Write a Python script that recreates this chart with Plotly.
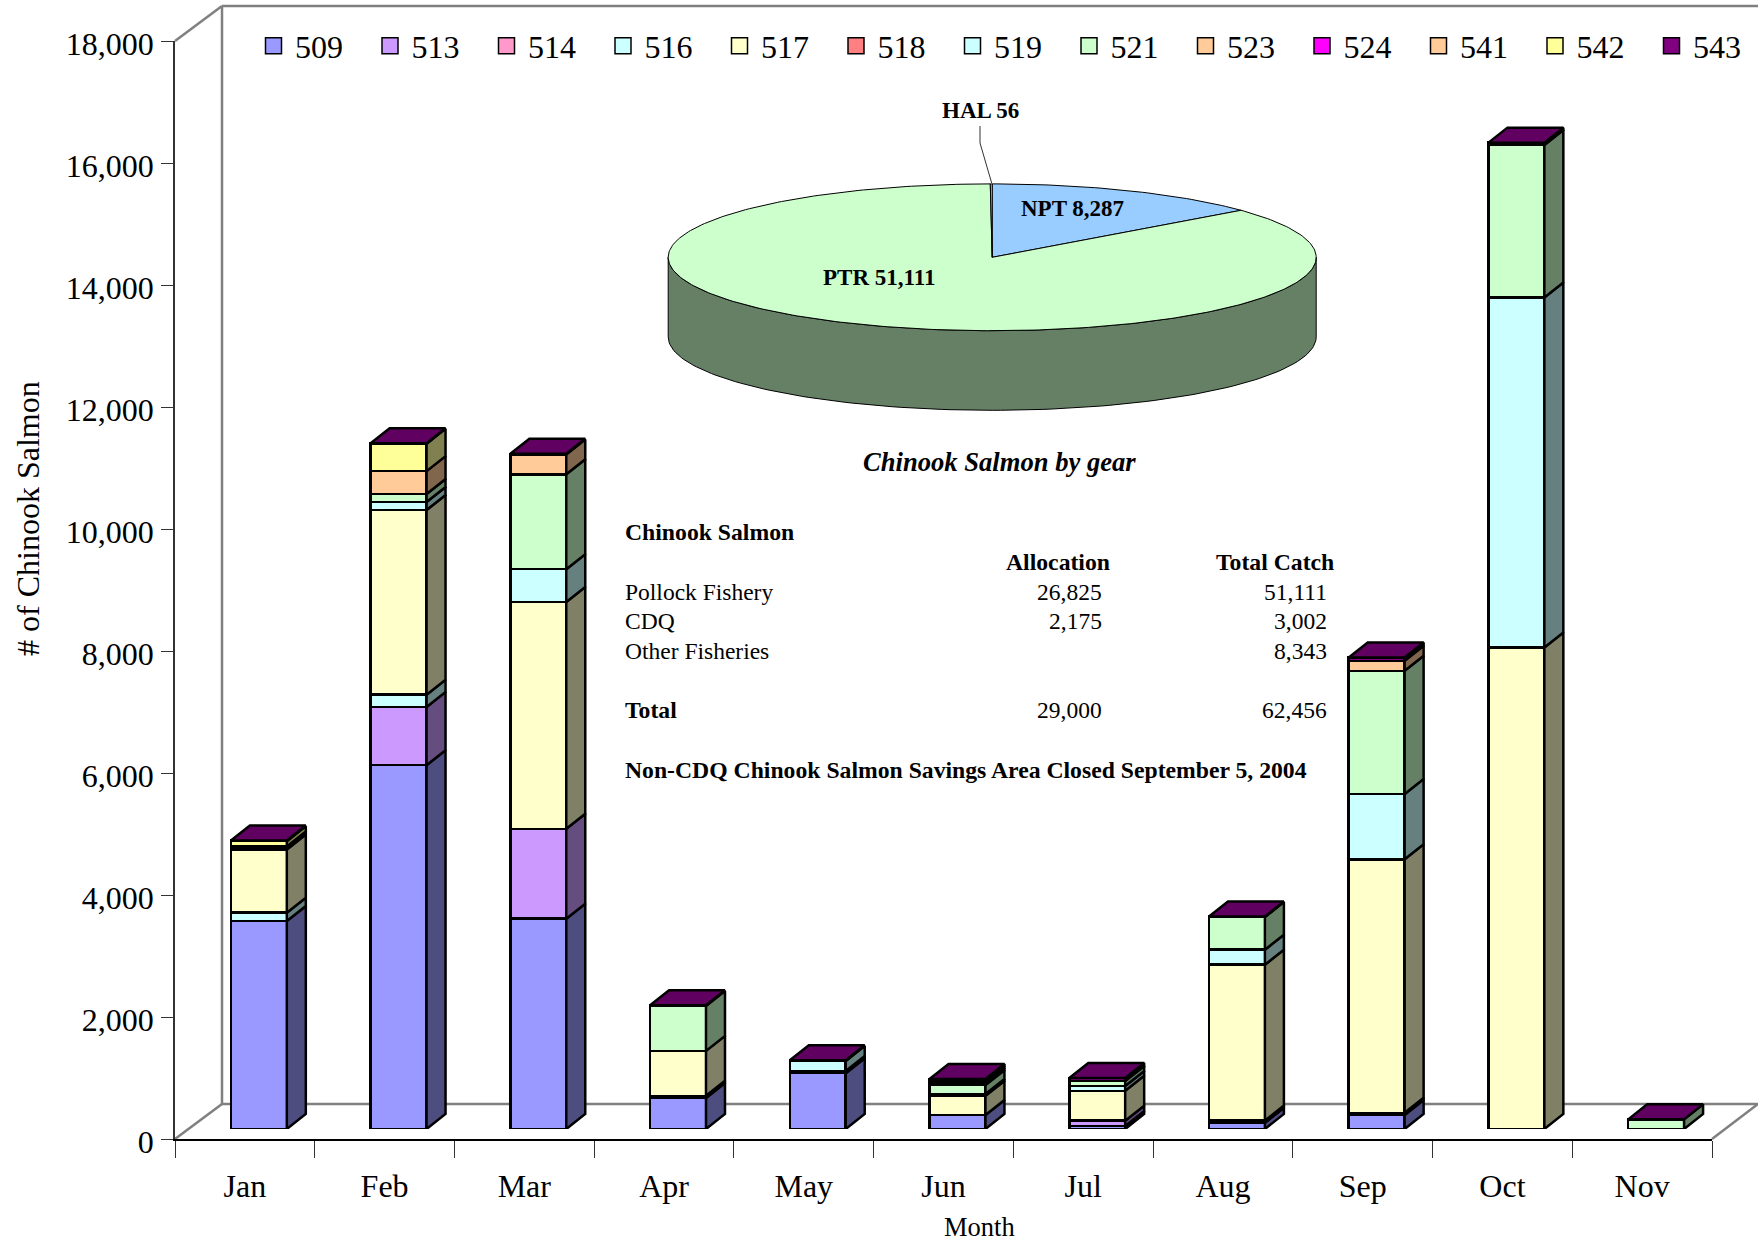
import numpy as np
import plotly.graph_objects as go

W, H = 1758, 1241

months = ["Jan", "Feb", "Mar", "Apr", "May", "Jun", "Jul", "Aug", "Sep", "Oct", "Nov"]
codes = ["509", "513", "514", "516", "517", "518", "519", "521", "523", "524", "541", "542", "543"]

v509 = [3409, 5964, 3448, 508, 915, 229, 49, 102, 230, 0, 0]
v513 = [0, 954, 1473, 0, 0, 0, 87, 0, 0, 0, 0]
v514 = [0, 0, 0, 0, 0, 0, 0, 0, 0, 0, 0]
v516 = [137, 202, 0, 36, 36, 0, 0, 36, 36, 0, 0]
v517 = [1037, 3027, 3720, 737, 0, 315, 491, 2556, 4156, 7894, 0]
v518 = [0, 0, 0, 0, 0, 0, 0, 0, 0, 0, 0]
v519 = [25, 131, 536, 0, 165, 30, 77, 246, 1070, 5738, 0]
v521 = [24, 131, 1555, 737, 0, 146, 82, 534, 2020, 2500, 158]
v523 = [0, 376, 0, 0, 0, 30, 0, 0, 0, 0, 0]
v524 = [0, 0, 0, 0, 0, 0, 0, 0, 0, 0, 0]
v541 = [0, 0, 327, 0, 0, 36, 0, 0, 164, 0, 0]
v542 = [86, 447, 0, 0, 0, 0, 0, 0, 0, 0, 0]
v543 = [10, 10, 10, 10, 10, 32, 49, 10, 54, 38, 0]
series = [v509, v513, v514, v516, v517, v518, v519, v521, v523, v524, v541, v542, v543]

front_colors = ["#9999FF", "#CC99FF", "#FF99CC", "#CCFFFF", "#FFFFCC", "#FF8080", "#CCFFFF",
                "#CCFFCC", "#FFCC99", "#FF00FF", "#FFCC99", "#FFFF99", "#800080"]
side_colors = ["#4D4D80", "#664D80", "#804D66", "#668080", "#808066", "#804040", "#668080",
               "#668066", "#80664D", "#800080", "#80664D", "#808050", "#400040"]
top_color = "#600060"

pie_labels = ["NPT", "PTR", "HAL"]
pie_values = [8287, 51111, 56]
pie_colors = ["#99CCFF", "#CCFFCC", "#CCCCFF"]
pie_side_color = "#668066"

FONT = "Liberation Serif"


def px(x):
    return x / W


def py(y):
    return 1 - y / H


# plot geometry, in pixels of the page
AX_L, AX_R, AX_T, AX_B = 175, 1712, 41, 1139
BACK_X, BACK_B, WALL_T = 222, 1104, 6
SHIFT_X, SHIFT_Y = 14, 10
UNIT_X = (AX_R - AX_L) / len(months)
UNIT_Y = (AX_B - AX_T) / 18000
BAR_W = 0.40
DEPTH_X = 19 / UNIT_X
DEPTH_Y = 15 / UNIT_Y

fig = go.Figure()

# carries the month categories on the visible axis
fig.add_trace(go.Scatter(x=months, y=[None] * len(months), mode="markers", showlegend=False,
                         hoverinfo="skip", xaxis="x", yaxis="y"))

# legend entries
for code, col in zip(codes, front_colors):
    fig.add_trace(go.Scatter(x=[None], y=[None], mode="markers", name=code, legendgroup=code,
                             marker=dict(symbol="square", size=16, color=col,
                                         line=dict(color="black", width=1.5)),
                             xaxis="x", yaxis="y"))

# front faces
idx = list(range(len(months)))
for code, col, vals in zip(codes, front_colors, series):
    fig.add_trace(go.Bar(x=idx, y=[v if v else None for v in vals], width=BAR_W, name=code,
                         legendgroup=code, showlegend=False,
                         marker=dict(color=col, line=dict(color="black", width=2.5)),
                         xaxis="x2", yaxis="y2"))

# side faces, from the same stacks
bottoms = np.zeros(len(months))
for code, col, vals in zip(codes, side_colors, series):
    xs, ys = [], []
    for i, v in enumerate(vals):
        if not v:
            continue
        r = i + BAR_W / 2
        b, t = bottoms[i], bottoms[i] + v
        xs += [r, r + DEPTH_X, r + DEPTH_X, r, r, None]
        ys += [b, b + DEPTH_Y, t + DEPTH_Y, t, b, None]
    bottoms = bottoms + np.array(vals)
    if xs:
        fig.add_trace(go.Scatter(x=xs, y=ys, mode="lines", fill="toself", fillcolor=col,
                                 line=dict(color="black", width=2.5), showlegend=False,
                                 hoverinfo="skip", xaxis="x2", yaxis="y2"))

# top faces
xs, ys = [], []
for i, t in enumerate(bottoms):
    l, r = i - BAR_W / 2, i + BAR_W / 2
    xs += [l, l + DEPTH_X, r + DEPTH_X, r, l, None]
    ys += [t, t + DEPTH_Y, t + DEPTH_Y, t, t, None]
fig.add_trace(go.Scatter(x=xs, y=ys, mode="lines", fill="toself", fillcolor=top_color,
                         line=dict(color="black", width=2.5), showlegend=False,
                         hoverinfo="skip", xaxis="x2", yaxis="y2"))

# pie
PIE_CX, PIE_CY, PIE_RX, PIE_RY, PIE_D = 992.2, 257.3, 324, 73.4, 79.6
PAD = 0.02
d = PIE_D / PIE_RY
th = np.radians(np.linspace(90, 270, 121))
sx = np.sin(th)
sy = np.cos(th)
fig.add_trace(go.Scatter(x=np.r_[sx, sx[::-1], sx[0]], y=np.r_[sy, sy[::-1] - d, sy[0]],
                         mode="lines", fill="toself", fillcolor=pie_side_color,
                         line=dict(color="black", width=1), showlegend=False, hoverinfo="skip",
                         xaxis="x3", yaxis="y3"))
start = 0.0
total = sum(pie_values)
for lab, val, col in zip(pie_labels, pie_values, pie_colors):
    end = start + 360 * val / total
    a = np.radians(np.linspace(start, end, max(3, int(val / total * 360))))
    fig.add_trace(go.Scatter(x=np.r_[0, np.sin(a), 0], y=np.r_[0, np.cos(a), 0], mode="lines",
                             fill="toself", fillcolor=col, line=dict(color="black", width=1),
                             name=lab, showlegend=False, hoverinfo="skip", xaxis="x3", yaxis="y3"))
    start = end

# walls and floor
wall = dict(color="#808080", width=2.5)
shapes = []
for (x0, y0, x1, y1) in [(AX_L, AX_T, BACK_X, WALL_T), (BACK_X, WALL_T, W, WALL_T),
                         (BACK_X, WALL_T, BACK_X, BACK_B), (BACK_X, BACK_B, W, BACK_B),
                         (AX_L, AX_B, BACK_X, BACK_B), (AX_R, AX_B, W, AX_B - 35)]:
    shapes.append(dict(type="line", xref="paper", yref="paper", x0=px(x0), y0=py(y0),
                       x1=px(x1), y1=py(y1), line=wall, layer="below"))
# leader line for the HAL label
shapes.append(dict(type="path", xref="paper", yref="paper",
                   path=f"M{px(980)},{py(126)} L{px(980)},{py(143)} L{px(991.7)},{py(183)}",
                   line=dict(color="#333333", width=1), layer="above"))


def note(text, x, y, size, bold=False, italic=False, anchor="center", angle=0):
    if bold:
        text = f"<b>{text}</b>"
    if italic:
        text = f"<i>{text}</i>"
    return dict(text=text, x=px(x), y=py(y), xref="paper", yref="paper", showarrow=False,
                xanchor=anchor, yanchor="middle", textangle=angle,
                font=dict(family=FONT, size=size, color="black"))


TS = 23.5
TB = 23.7
PL = 23
LEFT = 622.5
RIGHT1 = 1103.5
RIGHT2 = 1328.5
annotations = [
    note("HAL 56", 980, 110, PL, bold=True),
    note("NPT 8,287", 1072, 208.5, PL, bold=True),
    note("PTR 51,111", 879, 277, PL, bold=True),
    note("Chinook Salmon by gear", 999.6, 461.7, 26.6, bold=True, italic=True),
    note("Chinook Salmon", LEFT, 531.7, TB, bold=True, anchor="left"),
    note("Allocation", 1057.6, 561.7, TB, bold=True),
    note("Total Catch", 1275, 561.7, TB, bold=True),
    note("Pollock Fishery", LEFT, 591.7, TS, anchor="left"),
    note("26,825", RIGHT1, 591.7, TS, anchor="right"),
    note("51,111", RIGHT2, 591.7, TS, anchor="right"),
    note("CDQ", LEFT, 621, TS, anchor="left"),
    note("2,175", RIGHT1, 621, TS, anchor="right"),
    note("3,002", RIGHT2, 621, TS, anchor="right"),
    note("Other Fisheries", LEFT, 650.7, TS, anchor="left"),
    note("8,343", RIGHT2, 650.7, TS, anchor="right"),
    note("Total", LEFT, 710, TB, bold=True, anchor="left"),
    note("29,000", RIGHT1, 710, TS, anchor="right"),
    note("62,456", RIGHT2, 710, TS, anchor="right"),
    note("Non-CDQ Chinook Salmon Savings Area Closed September 5, 2004", LEFT, 770, TB, bold=True,
         anchor="left"),
    note("# of Chinook Salmon", 28, 519, 32, angle=-90),
    note("Month", 979, 1227, 26.5),
]

fig.update_layout(
    width=W, height=H, margin=dict(l=0, r=0, t=0, b=0, pad=0, autoexpand=False),
    paper_bgcolor="white", plot_bgcolor="rgba(0,0,0,0)",
    barmode="stack", bargap=0.6,
    font=dict(family=FONT, size=32, color="black"),
    shapes=shapes, annotations=annotations,
    legend=dict(orientation="h", x=px(252), y=py(46), xanchor="left", yanchor="middle",
                entrywidth=68.5, entrywidthmode="pixels", itemwidth=33, itemsizing="trace",
                tracegroupgap=0, font=dict(family=FONT, size=32), bgcolor="rgba(0,0,0,0)"),
    xaxis=dict(type="category", categoryorder="array", categoryarray=months,
               range=[-0.5, len(months) - 0.5], domain=[px(AX_L), px(AX_R)], anchor="y",
               tickson="boundaries", ticks="outside", ticklen=17, tickwidth=1, tickcolor="#333333",
               showline=True, linecolor="black", linewidth=1.5, showgrid=False, zeroline=False,
               ticklabelstandoff=18, tickfont=dict(family=FONT, size=32)),
    yaxis=dict(range=[0, 18000], domain=[py(AX_B), py(AX_T)], anchor="x", dtick=2000,
               tickformat=",", ticks="outside", ticklen=12, tickwidth=1, tickcolor="#333333",
               showline=True, linecolor="#333333", linewidth=1.5, showgrid=False, zeroline=False,
               ticklabelstandoff=1, ticklabelshift=3, tickfont=dict(family=FONT, size=32)),
    xaxis2=dict(range=[-0.5, len(months) - 0.5], domain=[px(AX_L + SHIFT_X), px(AX_R + SHIFT_X)],
                anchor="y2", visible=False),
    yaxis2=dict(range=[0, 18000], domain=[py(AX_B - SHIFT_Y), py(AX_T - SHIFT_Y)], anchor="x2",
                visible=False),
    xaxis3=dict(range=[-1 - PAD, 1 + PAD],
                domain=[px(PIE_CX - PIE_RX * (1 + PAD)), px(PIE_CX + PIE_RX * (1 + PAD))],
                anchor="y3", visible=False),
    yaxis3=dict(range=[-1 - d - PAD, 1 + PAD],
                domain=[py(PIE_CY + PIE_RY * (1 + d + PAD)), py(PIE_CY - PIE_RY * (1 + PAD))],
                anchor="x3", visible=False),
)

fig.write_html("out.html", config=dict(displayModeBar=False),
               post_script="document.body.style.margin='0';document.body.style.overflow='hidden';")
